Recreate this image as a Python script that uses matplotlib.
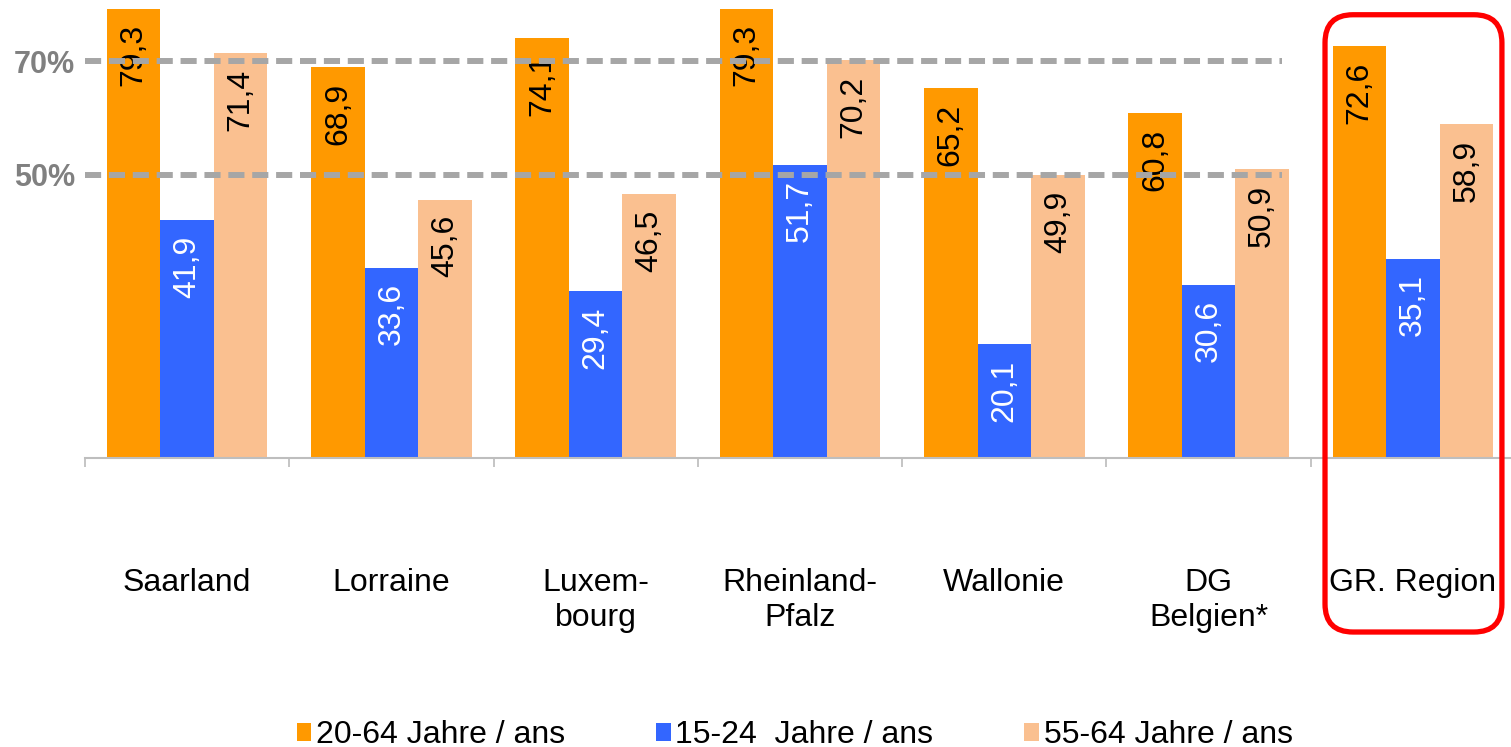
import matplotlib
matplotlib.use('Agg')
import matplotlib.pyplot as plt
import numpy as np
from matplotlib.patches import FancyBboxPatch

plt.rcParams['font.family'] = ['Liberation Sans', 'DejaVu Sans']

# data (employment rates, %)
REGIONS = ['Saarland', 'Lorraine', 'Luxem-\nbourg', 'Rheinland-\nPfalz', 'Wallonie', 'DG\nBelgien*', 'GR. Region']
AGE_20_64 = [79.3, 68.9, 74.1, 79.3, 65.2, 60.8, 72.6]
AGE_15_24 = [41.9, 33.6, 29.4, 51.7, 20.1, 30.6, 35.1]
AGE_55_64 = [71.4, 45.6, 46.5, 70.2, 49.9, 50.9, 58.9]
SERIES_LABELS = ['20-64 Jahre / ans', '15-24  Jahre / ans', '55-64 Jahre / ans']
GRID_VALUES = [50, 70]
GRID_LABELS = ['50%', '70%']

COLORS = ['#FF9900', '#3366FF', '#FAC090']
TEXT_COLORS = ['black', 'white', 'black']

fig = plt.figure(figsize=(15.11, 7.47), dpi=100)
ax = fig.add_axes([85 / 1511, 289 / 747, 1430 / 1511, 458 / 747])

x = np.arange(len(REGIONS))
w = 0.262
for i, (vals, col, tcol, lab) in enumerate(zip([AGE_20_64, AGE_15_24, AGE_55_64], COLORS, TEXT_COLORS, SERIES_LABELS)):
    xs = x + (i - 1) * w
    ax.bar(xs, vals, width=w, color=col, label=lab, zorder=2)
    for xi, v in zip(xs, vals):
        ax.annotate(f"{v:.1f}".replace('.', ','), (xi, v), xytext=(0, -11), textcoords='offset points',
                    rotation=90, ha='center', va='top', fontsize=23, color=tcol, zorder=4)

# dashed reference lines (drawn on top, stop before GR. Region)
ax.hlines(GRID_VALUES, -0.5, 5.36, colors='#A6A6A6', linewidth=4.3, linestyles=[(0, (2.7, 1.3))], zorder=5)

ax.set_xlim(-0.5, 6.5)
ax.set_ylim(0, 80.8)
ax.set_xticks(x)
ax.set_xticklabels(REGIONS, fontsize=23, linespacing=1.22)
ax.set_xticks(np.arange(-0.5, 7, 1), minor=True)
ax.tick_params(axis='x', which='major', length=0, pad=79)
ax.tick_params(axis='x', which='minor', length=6.5, width=1.2, color='#BBBBBB')
ax.set_yticks(GRID_VALUES)
ax.set_yticklabels(GRID_LABELS, fontsize=22, fontweight='bold', color='#808080')
ax.tick_params(axis='y', length=0, pad=7)
for s in ['left', 'right', 'top']:
    ax.spines[s].set_visible(False)
ax.spines['bottom'].set_color('#BEBEBE')
ax.spines['bottom'].set_linewidth(1.5)

# red rounded frame around GR. Region
fig.canvas.draw()
x0 = ax.transData.transform((x[-1] - 0.43, 78.2))
x1 = ax.transData.transform((x[-1] + 0.436, -30.7))
l, b = x0[0] / fig.dpi, x1[1] / fig.dpi
r, t = x1[0] / fig.dpi, x0[1] / fig.dpi
frame = FancyBboxPatch((l, b), r - l, t - b, boxstyle='round,pad=0,rounding_size=0.28',
                       transform=fig.dpi_scale_trans, fill=False, edgecolor='#FF0000', linewidth=3.8,
                       clip_on=False)
fig.patches.append(frame)

fig.legend(loc='center', bbox_to_anchor=(0.526, 0.016), ncol=3, frameon=False, fontsize=23,
           handlelength=0.45, handleheight=0.5, handletextpad=0.15, columnspacing=2.85, borderpad=0)

plt.savefig('out.png', dpi=100)
